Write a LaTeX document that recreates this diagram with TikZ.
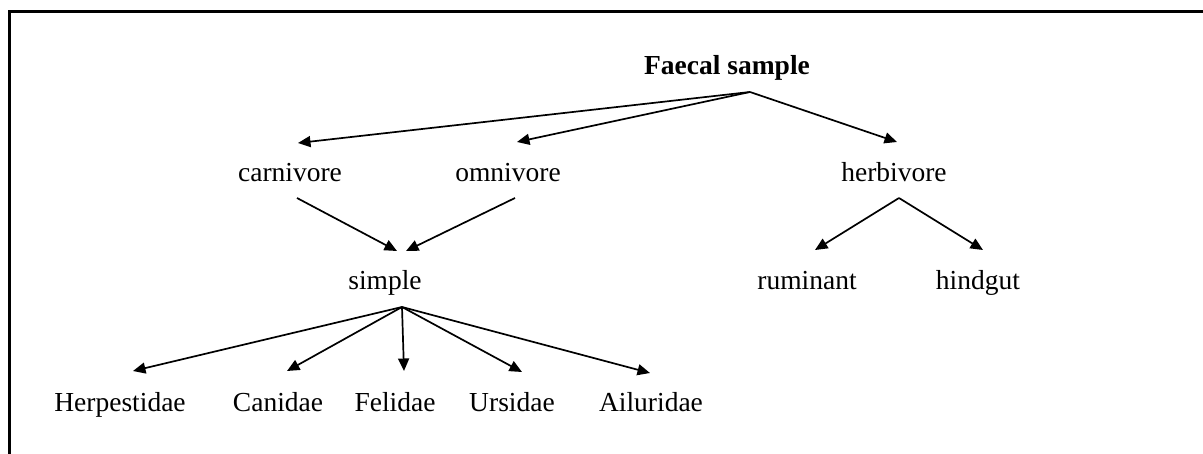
\documentclass[tikz,border=0pt]{standalone}
\usepackage{fontspec}
\setmainfont{Liberation Serif}
\usetikzlibrary{arrows.meta}
\begin{document}
\begin{tikzpicture}[x=1pt,y=-1pt,
  lbl/.style={anchor=base,inner sep=0pt,font=\fontsize{27.5}{33}\selectfont},
  conn/.style={line width=1.7pt,-{Triangle[length=12.5pt,width=11pt]}},
  frame/.style={line width=3pt}]
\useasboundingbox (0,0) rectangle (1203,454);
\clip (0,0) rectangle (1203,454);
\fill[white] (0,0) rectangle (1203,454);
\draw[frame] (9.5,600) -- (9.5,11.5) -- (1300,11.5);
% nodes
\node[lbl,font=\fontsize{27.5}{33}\selectfont\bfseries] (fs) at (727,75) {Faecal sample};
\node[lbl] (carn) at (290,182) {carnivore};
\node[lbl] (omni) at (508,182) {omnivore};
\node[lbl] (herb) at (894,182) {herbivore};
\node[lbl] (simp) at (385,290) {simple};
\node[lbl] (rumi) at (807,290) {ruminant};
\node[lbl] (hind) at (978,290) {hindgut};
\node[lbl] (herp) at (120,412) {Herpestidae};
\node[lbl] (cani) at (278,412) {Canidae};
\node[lbl] (feli) at (395,412) {Felidae};
\node[lbl] (ursi) at (512,412) {Ursidae};
\node[lbl] (ailu) at (651,412) {Ailuridae};
% connector ends
\coordinate (fs-out) at (750,92);
\coordinate (carn-in) at (298,143);
\coordinate (omni-in) at (517,142);
\coordinate (herb-in) at (897,142);
\coordinate (carn-out) at (297,198);
\coordinate (omni-out) at (515,198);
\coordinate (simp-in1) at (397,251);
\coordinate (simp-in2) at (406,251);
\coordinate (simp-out) at (402,307);
\coordinate (herp-in) at (133,371);
\coordinate (cani-in) at (287,371);
\coordinate (feli-in) at (404,371);
\coordinate (ursi-in) at (522,372);
\coordinate (ailu-in) at (650,373);
\coordinate (herb-out) at (899,198);
\coordinate (rumi-in) at (815,250);
\coordinate (hind-in) at (983,250);
% connectors
\draw[conn] (fs-out) -- (carn-in);
\draw[conn] (fs-out) -- (omni-in);
\draw[conn] (fs-out) -- (herb-in);
\draw[conn] (carn-out) -- (simp-in1);
\draw[conn] (omni-out) -- (simp-in2);
\draw[conn] (simp-out) -- (herp-in);
\draw[conn] (simp-out) -- (cani-in);
\draw[conn] (simp-out) -- (feli-in);
\draw[conn] (simp-out) -- (ursi-in);
\draw[conn] (simp-out) -- (ailu-in);
\draw[conn] (herb-out) -- (rumi-in);
\draw[conn] (herb-out) -- (hind-in);
\end{tikzpicture}
\end{document}
